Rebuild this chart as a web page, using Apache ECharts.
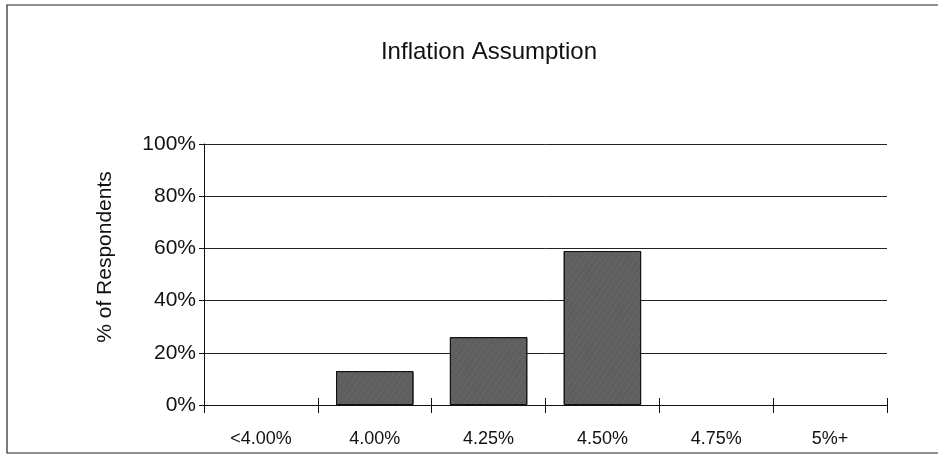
<!DOCTYPE html>
<html>
<head>
<meta charset="utf-8">
<script src="https://cdn.jsdelivr.net/npm/echarts@6/dist/echarts.min.js"></script>
<style>
  html, body { margin: 0; padding: 0; background: #fff; }
  #chart { width: 938px; height: 461px; }
</style>
</head>
<body>
<div id="chart"></div>
<script>
  // data
  const categories = ['<4.00%', '4.00%', '4.25%', '4.50%', '4.75%', '5%+'];
  const respondents = [0, 13, 26, 59, 0, 0];
  const yTicks = [0, 20, 40, 60, 80, 100];

  const chart = echarts.init(document.getElementById('chart'));

  // empty categories get no outline
  const barData = respondents.map(v => (v === 0 ? { value: v, itemStyle: { borderWidth: 0, opacity: 0 } } : v));

  const option = {
    backgroundColor: '#fff',
    animation: false,
    title: {
      text: 'Inflation Assumption',
      left: 484,
      textAlign: 'center',
      top: 35,
      textStyle: {
        fontFamily: 'Liberation Sans, Arial',
        fontSize: 24,
        fontWeight: 'normal',
        color: '#111',
      },
    },
    graphic: [
      {
        type: 'rect',
        shape: { x: 7, y: 5, width: 940, height: 448 },
        style: { fill: 'none', stroke: '#222', lineWidth: 1.2 },
        silent: true,
      },
      {
        type: 'text',
        x: 105,
        y: 257,
        rotation: Math.PI / 2,
        style: {
          text: '% of Respondents',
          fontFamily: 'Liberation Sans, Arial',
          fontSize: 21,
          fill: '#111',
          align: 'center',
          verticalAlign: 'middle',
        },
        silent: true,
      },
    ],
    grid: { left: 204, right: 51, top: 144, bottom: 56 },
    xAxis: [
      {
        type: 'category',
        data: categories,
        axisLine: { lineStyle: { color: '#111', width: 1 } },
        axisTick: { show: true, length: 8, lineStyle: { color: '#111' } },
        axisLabel: {
          margin: 25,
          fontFamily: 'Liberation Sans, Arial',
          fontSize: 18,
          color: '#111',
        },
      },
      {
        type: 'category',
        data: categories,
        position: 'bottom',
        axisLine: { show: false },
        axisTick: { show: true, inside: true, length: 7, lineStyle: { color: '#111' } },
        axisLabel: { show: false },
      },
    ],
    yAxis: {
      type: 'value',
      min: yTicks[0],
      max: yTicks[yTicks.length - 1],
      interval: yTicks[1] - yTicks[0],
      axisLine: { show: true, lineStyle: { color: '#111', width: 1 } },
      axisTick: { show: true, length: 5, lineStyle: { color: '#111' } },
      axisLabel: {
        formatter: '{value}%',
        margin: 8,
        fontFamily: 'Liberation Sans, Arial',
        fontSize: 21,
        color: '#111',
      },
      splitLine: { lineStyle: { color: '#222', width: 1 } },
    },
    series: [
      {
        type: 'bar',
        data: barData,
        barWidth: '68%',
        itemStyle: {
          color: '#5e5e5e',
          borderColor: '#111',
          borderWidth: 1,
          decal: {
            symbol: 'rect',
            symbolSize: 0.6,
            dashArrayX: [2, 3],
            dashArrayY: [1, 2],
            rotation: 0.6,
            color: 'rgba(210,210,210,0.4)',
          },
        },
      },
    ],
  };

  chart.setOption(option);
  window.addEventListener('resize', () => chart.resize());
</script>
</body>
</html>
